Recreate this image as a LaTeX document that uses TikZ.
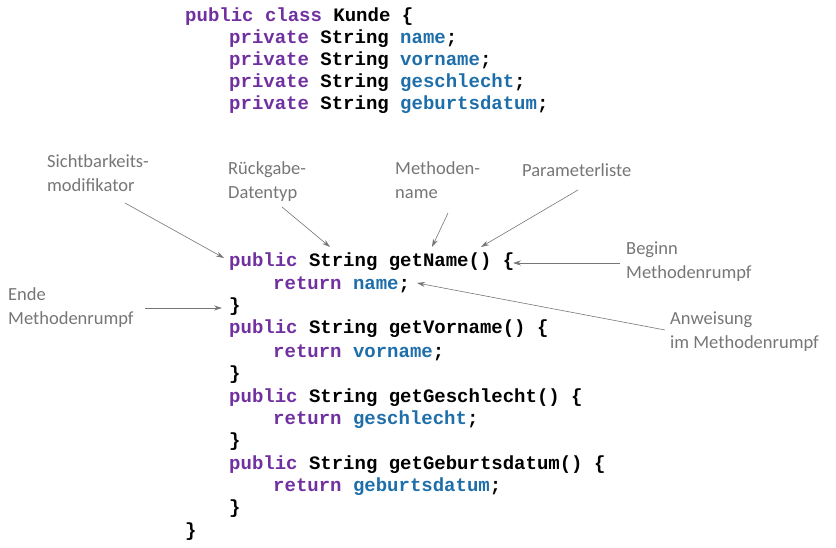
\documentclass[tikz,border=0pt]{standalone}
\usepackage{fontspec}
\setmonofont{Liberation Mono}
\setmainfont{Carlito}
\usetikzlibrary{arrows.meta}
\definecolor{kw}{RGB}{112,48,160}
\definecolor{id}{RGB}{30,110,170}
\definecolor{lab}{RGB}{118,118,118}
\newcommand{\K}[1]{\textcolor{kw}{#1}}
\newcommand{\I}[1]{\textcolor{id}{#1}}
\begin{document}
\begin{tikzpicture}[x=1pt,y=-1pt,
  code/.style={anchor=base west,inner sep=0,font=\fontsize{19}{22}\ttfamily\bfseries},
  lbl/.style={anchor=north west,inner sep=0,align=left,text=lab,font=\fontsize{18.5}{24}\selectfont},
  arr/.style={draw=lab,-{Stealth[length=8pt,width=5pt]},line width=0.6pt}]
\useasboundingbox (0,0) rectangle (836,548);
\node[code] (c1) at (185,22) {\K{public class} Kunde \{};
\node[code] (c2) at (229,44) {\K{private} String \I{name};};
\node[code] (c3) at (229,66) {\K{private} String \I{vorname};};
\node[code] (c4) at (229,88) {\K{private} String \I{geschlecht};};
\node[code] (c5) at (229,110) {\K{private} String \I{geburtsdatum};};
\node[code] (m1) at (229,267) {\K{public} String getName() \{};
\node[code] (r1) at (273,290) {\K{return} \I{name};};
\node[code] (e1) at (229,312) {\}};
\node[code] (m2) at (229,334) {\K{public} String getVorname() \{};
\node[code] (r2) at (273,357) {\K{return} \I{vorname};};
\node[code] (e2) at (229,379) {\}};
\node[code] (m3) at (229,402) {\K{public} String getGeschlecht() \{};
\node[code] (r3) at (273,424) {\K{return} \I{geschlecht};};
\node[code] (e3) at (229,446) {\}};
\node[code] (m4) at (229,469) {\K{public} String getGeburtsdatum() \{};
\node[code] (r4) at (273,491) {\K{return} \I{geburtsdatum};};
\node[code] (e4) at (229,513) {\}};
\node[code] (e5) at (185,536) {\}};

\node[lbl] (l1) at (47,154) {Sichtbarkeits-\\modifikator};
\node[lbl] (l2) at (228,161) {Rückgabe-\\Datentyp};
\node[lbl] (l3) at (395,161) {Methoden-\\name};
\node[lbl] (l4) at (522,163) {Parameterliste};
\node[lbl] (l5) at (626,242) {Beginn\\Methodenrumpf};
\node[lbl] (l6) at (8,287) {Ende\\Methodenrumpf};
\node[lbl] (l7) at (670,312) {Anweisung\\im Methodenrumpf};

\coordinate (a1s) at (125,203); \coordinate (a1e) at (224,258);
\coordinate (a2s) at (282,207); \coordinate (a2e) at (330,247);
\coordinate (a3s) at (448,213); \coordinate (a3e) at (432,247);
\coordinate (a4s) at (578,190); \coordinate (a4e) at (481,247);
\coordinate (a5s) at (620,263); \coordinate (a5e) at (513,263);
\coordinate (a6s) at (145,308); \coordinate (a6e) at (222,308);
\coordinate (a7s) at (665,330); \coordinate (a7e) at (417,283);
\draw[arr] (a1s) -- (a1e);
\draw[arr] (a2s) -- (a2e);
\draw[arr] (a3s) -- (a3e);
\draw[arr] (a4s) -- (a4e);
\draw[arr] (a5s) -- (a5e);
\draw[arr] (a6s) -- (a6e);
\draw[arr] (a7s) -- (a7e);
\end{tikzpicture}
\end{document}
